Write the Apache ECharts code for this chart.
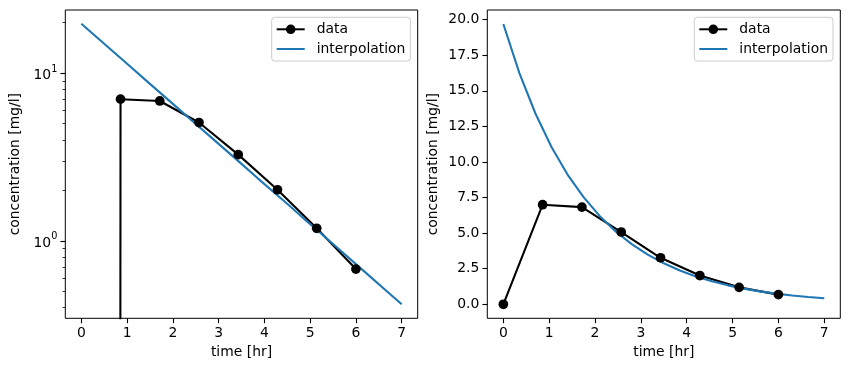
<!DOCTYPE html>
<html>
<head>
<meta charset="utf-8">
<script src="https://cdn.jsdelivr.net/npm/echarts@6/dist/echarts.min.js"></script>
<style>
html,body{margin:0;padding:0;background:#fff;}
#chart{width:849px;height:371px;}
</style>
</head>
<body>
<div id="chart"></div>
<script>
// ---- data ----
const time = [0, 0.857, 1.714, 2.571, 3.429, 4.286, 5.143, 6.0];
const conc = [0, 7.0, 6.83, 5.08, 3.27, 2.02, 1.19, 0.68];
const interpTime = [0, 0.35, 0.7, 1.05, 1.4, 1.75, 2.1, 2.45, 2.8, 3.15, 3.5,
                    3.85, 4.2, 4.55, 4.9, 5.25, 5.6, 5.95, 6.3, 6.65, 7.0];
const interpConc = [19.7, 16.25, 13.41, 11.06, 9.12, 7.53, 6.21, 5.12, 4.23, 3.49, 2.88,
                    2.37, 1.96, 1.62, 1.33, 1.10, 0.907, 0.748, 0.617, 0.509, 0.42];
const xTicks = [0, 1, 2, 3, 4, 5, 6, 7];
const logMajorTicks = [1, 10];
const logMinorTicks = [0.4, 0.5, 0.6, 0.7, 0.8, 0.9, 2, 3, 4, 5, 6, 7, 8, 9, 20];
const linTicks = [0, 2.5, 5, 7.5, 10, 12.5, 15, 17.5, 20];
const seriesNames = ['data', 'interpolation'];
const xLabel = 'time [hr]';
const yLabel = 'concentration [mg/l]';

const FONT = 'DejaVu Sans';
const FS = 13.9;
const BLUE = '#1f77b4';

const chart = echarts.init(document.getElementById('chart'), null, {renderer: 'canvas'});

// log(0) is -inf on a log axis: clip to a tiny positive value like matplotlib does
const leftData = time.map((t, i) => [t, conc[i] > 0 ? conc[i] : 1e-300]);
const rightData = time.map((t, i) => [t, conc[i]]);
const interpData = interpTime.map((t, i) => [t, interpConc[i]]);

function xAxis(gridIndex) {
  return {
    type: 'value', gridIndex, min: -0.35, max: 7.35,
    splitLine: {show: false},
    axisLine: {show: false, onZero: false},
    axisTick: {show: true, customValues: xTicks, length: 4.9, lineStyle: {color: '#000', width: 1.1}},
    axisLabel: {customValues: xTicks, color: '#000', fontSize: FS, fontFamily: FONT, margin: 8},
    name: xLabel, nameLocation: 'middle', nameGap: 27,
    nameTextStyle: {color: '#000', fontSize: FS, fontFamily: FONT}
  };
}

const legendBase = {
  orient: 'vertical',
  data: [{name: seriesNames[0]}, {name: seriesNames[1], itemStyle: {opacity: 0}}],
  itemWidth: 28, itemHeight: 12, itemGap: 5.7,
  padding: [5, 5, 5, 4], borderColor: '#cccccc', borderWidth: 1, borderRadius: 3,
  backgroundColor: 'rgba(255,255,255,0.8)',
  textStyle: {fontSize: FS, color: '#000', fontFamily: FONT, lineHeight: 14, padding: [0, 0, 0, 7]}
};

const option = {
  animation: false,
  backgroundColor: '#fff',
  grid: [
    {left: 65.3, top: 10, width: 352.4, height: 308.3, show: true, borderColor: '#000', borderWidth: 1, backgroundColor: 'transparent'},
    {left: 487.3, top: 10, width: 353, height: 308.3, show: true, borderColor: '#000', borderWidth: 1, backgroundColor: 'transparent'}
  ],
  legend: [
    Object.assign({left: 271.7, top: 17.3}, legendBase),
    Object.assign({left: 694.3, top: 17.3}, legendBase)
  ],
  xAxis: [xAxis(0), xAxis(1)],
  yAxis: [
    {
      type: 'log', logBase: 10, gridIndex: 0, min: 0.346, max: 23.8,
      splitLine: {show: false}, axisLine: {show: false, onZero: false},
      axisTick: {show: true, customValues: logMajorTicks, length: 4.9, lineStyle: {color: '#000', width: 1.1}},
      axisLabel: {
        customValues: logMajorTicks, margin: 8, color: '#000', fontFamily: FONT,
        formatter: function (v) { return '{b|10}{s|' + Math.round(Math.log10(v)) + '}'; },
        rich: {
          b: {fontSize: FS, fontFamily: FONT, color: '#000', lineHeight: 18, verticalAlign: 'bottom'},
          s: {fontSize: 9.7, fontFamily: FONT, color: '#000', lineHeight: 18, verticalAlign: 'top', padding: [0, 0, 6, 0]}
        }
      },
      name: yLabel, nameLocation: 'middle', nameGap: 43,
      nameTextStyle: {color: '#000', fontSize: FS, fontFamily: FONT}
    },
    {
      type: 'log', logBase: 10, gridIndex: 0, min: 0.346, max: 23.8, position: 'left',
      splitLine: {show: false}, axisLine: {show: false, onZero: false},
      axisTick: {show: true, customValues: logMinorTicks, length: 2.8, lineStyle: {color: '#000', width: 0.8}},
      axisLabel: {show: false}
    },
    {
      type: 'value', gridIndex: 1, min: -0.985, max: 20.685,
      splitLine: {show: false}, axisLine: {show: false, onZero: false},
      axisTick: {show: true, customValues: linTicks, length: 4.9, lineStyle: {color: '#000', width: 1.1}},
      axisLabel: {customValues: linTicks, margin: 8, color: '#000', fontSize: FS, fontFamily: FONT,
        formatter: v => v.toFixed(1)},
      name: yLabel, nameLocation: 'middle', nameGap: 47,
      nameTextStyle: {color: '#000', fontSize: FS, fontFamily: FONT}
    }
  ],
  series: [
    {name: 'data', type: 'line', xAxisIndex: 0, yAxisIndex: 0, data: leftData, clip: true,
      symbol: 'circle', symbolSize: 9.7, showSymbol: true,
      itemStyle: {color: '#000'}, lineStyle: {color: '#000', width: 2.08}},
    {name: 'interpolation', type: 'line', xAxisIndex: 0, yAxisIndex: 0, data: interpData, clip: true,
      symbol: 'none', itemStyle: {color: BLUE}, lineStyle: {color: BLUE, width: 2.08}},
    {name: 'data', type: 'line', xAxisIndex: 1, yAxisIndex: 2, data: rightData, clip: true,
      symbol: 'circle', symbolSize: 9.7, showSymbol: true,
      itemStyle: {color: '#000'}, lineStyle: {color: '#000', width: 2.08}},
    {name: 'interpolation', type: 'line', xAxisIndex: 1, yAxisIndex: 2, data: interpData, clip: true,
      symbol: 'none', itemStyle: {color: BLUE}, lineStyle: {color: BLUE, width: 2.08}}
  ]
};
chart.setOption(option);
</script>
</body>
</html>
